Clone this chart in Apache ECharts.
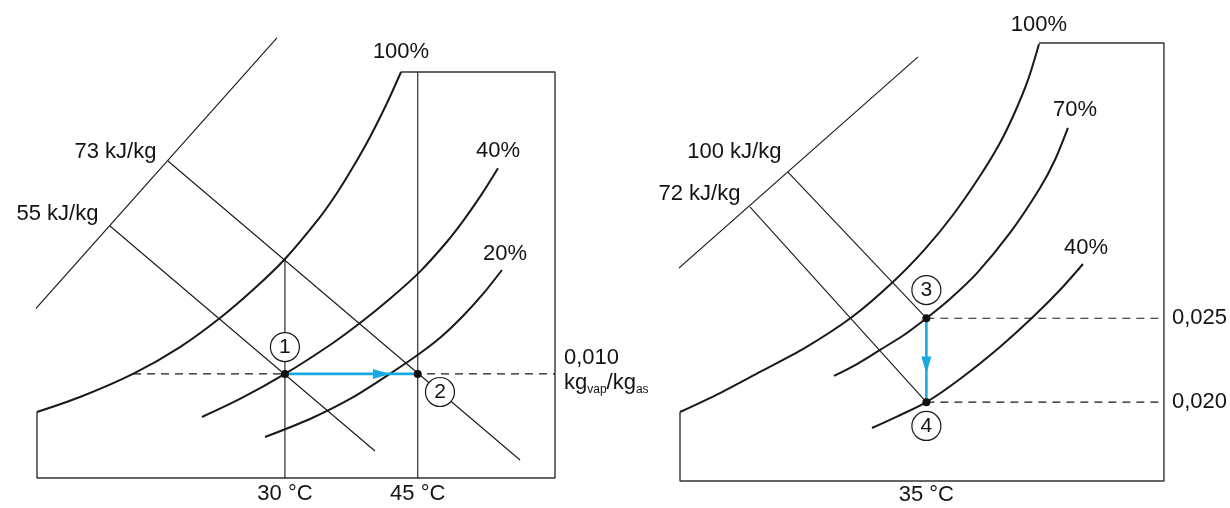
<!DOCTYPE html>
<html>
<head>
<meta charset="utf-8">
<script src="https://cdn.jsdelivr.net/npm/echarts@6/dist/echarts.min.js"></script>
<style>
html,body{margin:0;padding:0;background:#fff;}
#chart{width:1230px;height:508px;}
</style>
</head>
<body>
<div id="chart"></div>
<script>
// ---------- tick labels ----------
const tempTicksLeft = [30, 45];          // °C
const humTicksLeft = [0.010];            // kg_vap/kg_as
const tempTicksRight = [35];
const humTicksRight = [0.020, 0.025];

// ---------- LEFT CHART (x: °C, y: kg_vap/kg_as) ----------
const frameL = [[2, 0.00634], [2, 0], [60.5, 0], [60.5, 0.039], [43.11, 0.039]];
const sat100L = [[2, 0.00634], [6.86, 0.00778], [12.84, 0.0100], [18.15, 0.01258], [22.67, 0.01537],
  [26.62, 0.01825], [30, 0.02104], [33.96, 0.02507], [35.88, 0.02738], [37.69, 0.02987],
  [39.61, 0.03276], [41.53, 0.03602], [43.11, 0.0390]];
const rh40L = [[20.63, 0.00586], [24.92, 0.00759], [30, 0.0100], [35.09, 0.01278], [38.48, 0.01489],
  [41.86, 0.01722], [45.14, 0.01973], [48.08, 0.02248], [50.11, 0.02468], [52.25, 0.02729], [54.06, 0.02975]];
const rh20L = [[27.75, 0.00394], [32.83, 0.00567], [37.35, 0.00759], [41.64, 0.00989], [45.14, 0.01191],
  [47.62, 0.01354], [50.11, 0.01556], [52.37, 0.01768], [54.51, 0.01998]];
const enthAxisL = [[0.42, 0.01489], [29.10, 0.04227]];
const h73L = [[16.79, 0.03045], [56.55, 0.00173]];
const h55L = [[10.24, 0.02421], [40.17, 0.00259]];
const t30L = [[30, 0.02104], [30, 0]];
const t45L = [[45, 0.039], [45, 0]];
const w010L = [[12.84, 0.010], [60.5, 0.010]];
const statesL = [[30, 0.010], [45, 0.010]];
const arrowHeadL = [40.9, 0.010];
const tagsL = [[30, 0.01258, '1'], [47.51, 0.00826, '2']];

// ---------- RIGHT CHART ----------
const frameR = [[7, 0.01941], [7, 0.0153], [62, 0.0153], [62, 0.0414], [47.80, 0.0414]];
const sat100R = [[7, 0.01941], [11.55, 0.02054], [16.09, 0.02180], [21.20, 0.02323], [26.55, 0.02507],
  [31.20, 0.02716], [34.84, 0.02912], [38.02, 0.03115], [41.09, 0.03347], [43.36, 0.03544],
  [45.07, 0.03729], [46.55, 0.03920], [47.80, 0.04134]];
const rh70R = [[24.5, 0.02156], [27.11, 0.02227], [29.73, 0.02311], [32.45, 0.0240], [35, 0.025],
  [37.68, 0.02615], [40.75, 0.02769], [44.5, 0.03008], [47.91, 0.03276], [49.61, 0.03443], [51.09, 0.03634]];
const rh40R = [[28.82, 0.01846], [31.77, 0.01917], [35, 0.020], [38.82, 0.02138], [43.36, 0.02329],
  [47.11, 0.02507], [50.18, 0.02668], [52.80, 0.02823]];
const enthAxisR = [[3.93, 0.02662], [34.05, 0.04057]];
const h100R = [[19.27, 0.03371], [35, 0.025]];
const h72R = [[14.95, 0.03163], [35, 0.020]];
const w025R = [[35, 0.025], [61.55, 0.025]];
const w020R = [[35, 0.020], [61.55, 0.020]];
const statesR = [[35, 0.025], [35, 0.020]];
const arrowHeadR = [35, 0.02221];
const tagsR = [[35, 0.02668, '3'], [35, 0.01858, '4']];

// ---------- label texts ----------
const rhNamesL = ['100%', '40%', '20%'];
const enthNamesL = ['73 kJ/kg', '55 kJ/kg'];
const rhNamesR = ['100%', '70%', '40%'];
const enthNamesR = ['100 kJ/kg', '72 kJ/kg'];

// ---------- styling / building ----------
const FONT = "'Liberation Sans', Arial, Helvetica, sans-serif";
const INK = '#1a1818';
const TXT = '#141212';
const BLUE = '#19a9e2';
const FS = 22;
const last = a => a[a.length - 1];
const comma = v => v.toFixed(3).replace('.', ',');

function line(data, g, width, opts) {
  return Object.assign({
    type: 'line', xAxisIndex: g, yAxisIndex: g, data: data,
    showSymbol: false, smooth: false, clip: false, silent: true, z: 2,
    lineStyle: { color: INK, width: width }
  }, opts || {});
}
function curve(data, g) { return line(data, g, 2, { smooth: 0.3 }); }
function dashed(data, g) { return line(data, g, 1.1, { lineStyle: { color: INK, width: 1.1, type: [8, 6] } }); }

function texts(g, items) {
  return {
    type: 'scatter', xAxisIndex: g, yAxisIndex: g, symbolSize: 1, clip: false, silent: true, z: 7,
    itemStyle: { color: 'transparent', opacity: 1 },
    data: items.map(it => ({
      value: it.at.slice(0, 2),
      label: {
        show: true, formatter: it.text, position: it.pos, distance: it.d, offset: it.off || [0, 0],
        fontSize: FS, color: TXT, fontFamily: FONT, opacity: 1, textBorderWidth: 0
      }
    }))
  };
}
function tags(g, data) {
  return {
    type: 'scatter', xAxisIndex: g, yAxisIndex: g, symbol: 'circle', symbolSize: 29, clip: false, silent: true, z: 5,
    itemStyle: { color: '#fff', borderColor: INK, borderWidth: 1.2, opacity: 1 },
    label: { show: true, position: 'inside', formatter: p => p.value[2], fontSize: 21, color: TXT, fontFamily: FONT,
      opacity: 1, textBorderWidth: 0 },
    data: data
  };
}
function dots(g, data) {
  return {
    type: 'scatter', xAxisIndex: g, yAxisIndex: g, symbol: 'circle', symbolSize: 8, clip: false, silent: true, z: 6,
    itemStyle: { color: '#111', opacity: 1 }, data: data
  };
}
function head(g, at, rot) {
  return {
    type: 'scatter', xAxisIndex: g, yAxisIndex: g, symbol: 'triangle', symbolSize: [10, 17], symbolRotate: rot,
    clip: false, silent: true, z: 4, itemStyle: { color: BLUE, opacity: 1 }, data: [at]
  };
}
function xAx(g, min, max, ticks, margin) {
  return {
    gridIndex: g, type: 'value', min: min, max: max,
    axisLine: { show: false }, axisTick: { show: false }, splitLine: { show: false },
    axisLabel: { customValues: ticks, formatter: v => v + ' °C', margin: margin, fontSize: FS, color: TXT, fontFamily: FONT }
  };
}

const option = {
  animation: false,
  backgroundColor: '#ffffff',
  tooltip: { show: false },
  grid: [
    { left: 37, top: 72, width: 518, height: 406 },
    { left: 680, top: 43, width: 484, height: 438 }
  ],
  xAxis: [xAx(0, 2, 60.5, tempTicksLeft, 5), xAx(1, 7, 62, tempTicksRight, 3)],
  yAxis: [
    {
      gridIndex: 0, type: 'value', min: 0, max: 0.039, position: 'right',
      axisLine: { show: false }, axisTick: { show: false }, splitLine: { show: false },
      axisLabel: {
        customValues: humTicksLeft, margin: 9, color: TXT, fontFamily: FONT, fontSize: FS,
        padding: [0, 0, 7, 0],
        formatter: v => '{a|' + comma(v) + '}\n{b|kg}{s|vap}{b|/kg}{s|as}',
        rich: {
          a: { fontSize: FS, lineHeight: 25, color: TXT, fontFamily: FONT },
          b: { fontSize: FS, lineHeight: 25, color: TXT, fontFamily: FONT },
          s: { fontSize: 12, lineHeight: 25, verticalAlign: 'bottom', color: TXT, fontFamily: FONT }
        }
      }
    },
    {
      gridIndex: 1, type: 'value', min: 0.0153, max: 0.0414, position: 'right',
      axisLine: { show: false }, axisTick: { show: false }, splitLine: { show: false },
      axisLabel: { customValues: humTicksRight, margin: 8, formatter: v => comma(v), color: TXT, fontFamily: FONT, fontSize: FS }
    }
  ],
  series: [
    // left chart
    line(frameL, 0, 1.4, { lineStyle: { color: '#333', width: 1.4 } }),
    curve(sat100L, 0), curve(rh40L, 0), curve(rh20L, 0),
    line(enthAxisL, 0, 1.1), line(h73L, 0, 1.1), line(h55L, 0, 1.1),
    line(t30L, 0, 1.1), line(t45L, 0, 1.1),
    dashed(w010L, 0),
    line(statesL, 0, 2.6, { lineStyle: { color: BLUE, width: 2.6 }, z: 4 }),
    head(0, arrowHeadL, -90),
    dots(0, statesL),
    tags(0, tagsL),
    texts(0, [
      { at: last(sat100L), text: rhNamesL[0], pos: 'top', d: 9 },
      { at: last(rh40L), text: rhNamesL[1], pos: 'top', d: 6 },
      { at: last(rh20L), text: rhNamesL[2], pos: 'top', d: 5, off: [3, 0] },
      { at: h73L[0], text: enthNamesL[0], pos: 'left', d: 11, off: [0, -9] },
      { at: h55L[0], text: enthNamesL[1], pos: 'left', d: 11, off: [0, -12] }
    ]),
    // right chart
    line(frameR, 1, 1.4, { lineStyle: { color: '#333', width: 1.4 } }),
    curve(sat100R, 1), curve(rh70R, 1), curve(rh40R, 1),
    line(enthAxisR, 1, 1.1), line(h100R, 1, 1.1), line(h72R, 1, 1.1),
    dashed(w025R, 1), dashed(w020R, 1),
    line(statesR, 1, 2.6, { lineStyle: { color: BLUE, width: 2.6 }, z: 4 }),
    head(1, arrowHeadR, 180),
    dots(1, statesR),
    tags(1, tagsR),
    texts(1, [
      { at: last(sat100R), text: rhNamesR[0], pos: 'top', d: 8 },
      { at: last(rh70R), text: rhNamesR[1], pos: 'top', d: 6, off: [7, 0] },
      { at: last(rh40R), text: rhNamesR[2], pos: 'top', d: 5, off: [3, 0] },
      { at: h100R[0], text: enthNamesR[0], pos: 'left', d: 6, off: [0, -20] },
      { at: h72R[0], text: enthNamesR[1], pos: 'left', d: 9, off: [0, -13] }
    ])
  ]
};

const chart = echarts.init(document.getElementById('chart'), null, { renderer: 'canvas' });
chart.setOption(option);
</script>
</body>
</html>
